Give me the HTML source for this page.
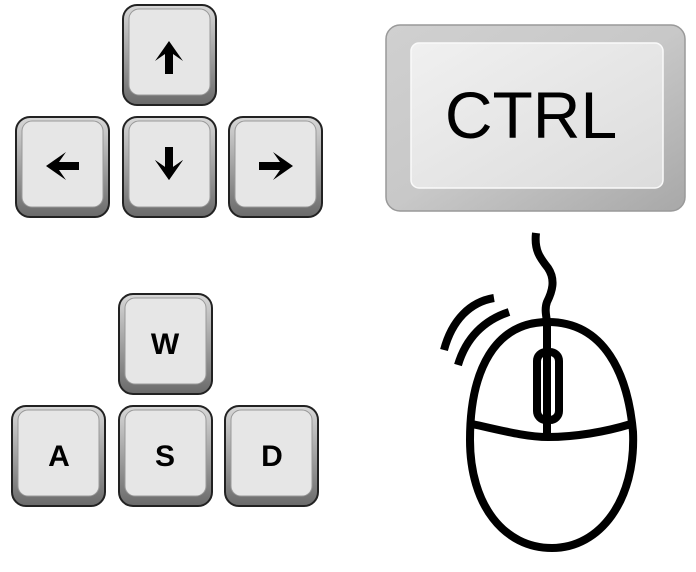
<!DOCTYPE html>
<html><head><style>body{margin:0;background:#fff}svg{display:block}</style></head><body>
<svg width="696" height="572" viewBox="0 0 696 572" xmlns="http://www.w3.org/2000/svg">
<defs>
<linearGradient id="kb" x1="0" y1="0" x2="0" y2="1"><stop offset="0" stop-color="#d8d8d8"/><stop offset="1" stop-color="#6a6a6a"/></linearGradient>
<linearGradient id="cb" x1="0" y1="0" x2="1" y2="1"><stop offset="0" stop-color="#d0d0d0"/><stop offset="0.5" stop-color="#c8c8c8"/><stop offset="1" stop-color="#a8a8a8"/></linearGradient>
<linearGradient id="cf" x1="0" y1="0" x2="1" y2="1"><stop offset="0" stop-color="#f0f0f0"/><stop offset="1" stop-color="#dcdcdc"/></linearGradient>
<g id="key">
<rect x="1" y="1" width="93" height="100" rx="14" fill="url(#kb)" stroke="#222" stroke-width="2"/>
<rect x="7" y="5" width="81" height="86" rx="10" fill="#e6e6e6" stroke="#999" stroke-width="1"/>
</g>
</defs>
<use href="#key" x="122" y="4"/>
<use href="#key" x="15" y="116"/>
<use href="#key" x="122" y="116"/>
<use href="#key" x="228" y="116"/>
<use href="#key" x="118" y="293"/>
<use href="#key" x="11" y="405"/>
<use href="#key" x="118" y="405"/>
<use href="#key" x="224" y="405"/>
<g fill="#000">
<polygon points="169,41 183,61 173,54 173,74 165,74 165,54 155,61"/>
<polygon points="169,180 183,160 173,167 173,147 165,167 165,167 155,160"/>
<polygon points="169,180 183,160 173,167 173,147 165,147 165,167 155,160"/>
<polygon points="46,166 66,152 59,162 79,162 79,170 59,170 66,180"/>
<polygon points="293,166 273,152 280,162 259,162 259,170 280,170 273,180"/>
</g>
<g font-family="Liberation Sans, sans-serif" font-weight="bold" font-size="30" text-anchor="middle" fill="#000">
<text x="165" y="354">W</text>
<text x="59" y="466">A</text>
<text x="165" y="466">S</text>
<text x="272" y="466">D</text>
</g>
<rect x="386" y="25" width="299" height="186" rx="14" fill="url(#cb)" stroke="#999" stroke-width="1.5"/>
<rect x="411" y="43" width="252" height="145" rx="8" fill="url(#cf)" stroke="#fafafa" stroke-width="1.5"/>
<text x="531" y="138" font-family="Liberation Sans, sans-serif" font-size="66" text-anchor="middle" fill="#000">CTRL</text>
<g fill="none" stroke="#000" stroke-width="8" stroke-linecap="butt">
<path d="M536,233 C534,250 540,258 548,268 C556,280 552,292 547,302 C544,310 547,318 547,323"/>
<path d="M548,322 C605,322 628,375 633,432 C636,500 600,548 552,548 C504,548 470,505 470,440 C470,370 495,322 548,322 Z"/>
<path d="M472,424 C500,430 525,437 548,437 C575,437 605,432 631,424"/>
<line x1="547" y1="322" x2="547" y2="437"/>
<rect x="537" y="352" width="22" height="68" rx="9"/>
<path d="M444,350 C452,320 470,302 494,298"/>
<path d="M458,365 C466,338 484,320 509,312"/>
</g>
</svg>
</body></html>
